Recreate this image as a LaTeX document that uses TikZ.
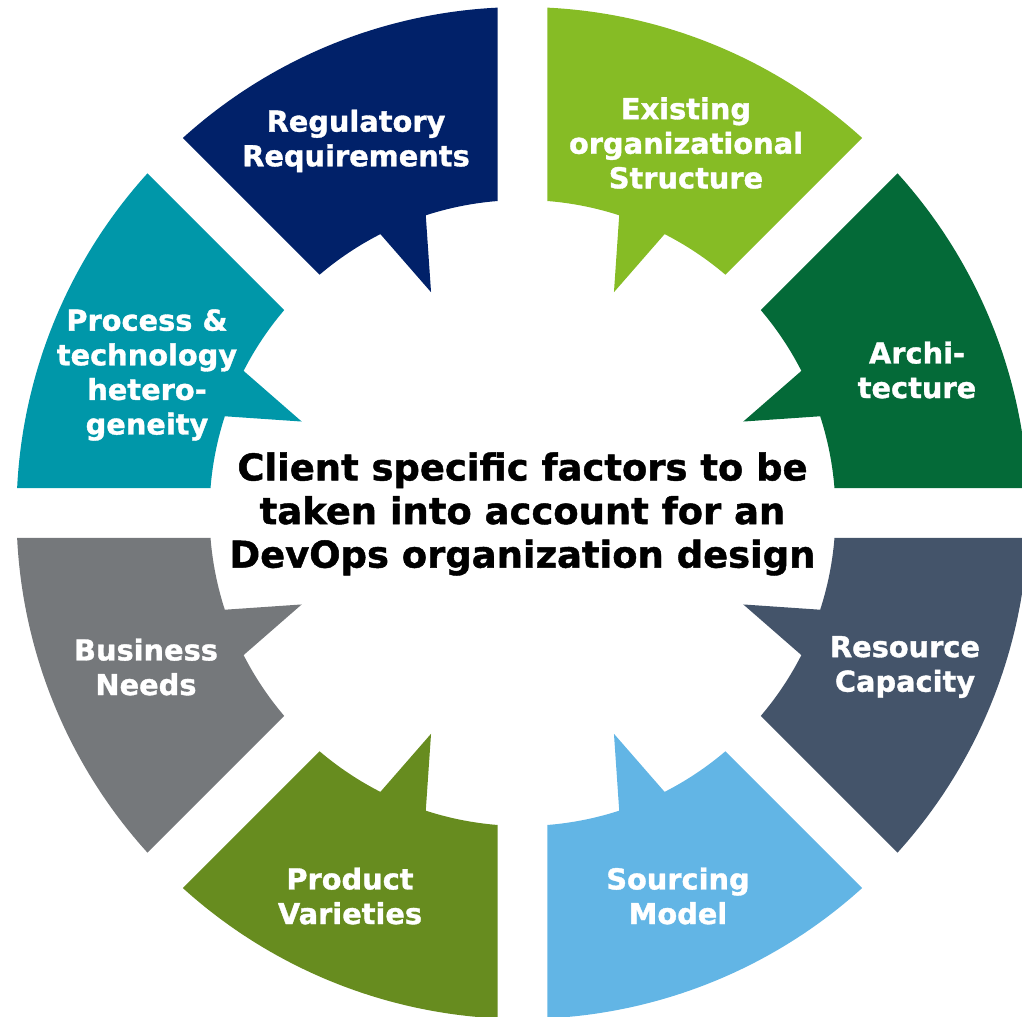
\documentclass[tikz,border=0pt]{standalone}
\usepackage{fontspec}
\setmainfont{DejaVu Sans}[BoldFeatures={FakeBold=1.2}]
\usetikzlibrary{math}

\definecolor{regblue}{HTML}{012169}
\definecolor{orggreen}{HTML}{86BC25}
\definecolor{archgreen}{HTML}{046A38}
\definecolor{proctea}{HTML}{0097A9}
\definecolor{busgray}{HTML}{75787B}
\definecolor{resslate}{HTML}{44546A}
\definecolor{prodolive}{HTML}{678C1F}
\definecolor{sourceblue}{HTML}{62B5E5}

\begin{document}
\begin{tikzpicture}[scale=0.02,
  factor/.style={text=white,align=center,inner sep=0pt,
    font=\bfseries\fontsize{16.4}{19.7}\selectfont},
  title/.style={text=black,align=center,inner sep=0pt,
    font=\bfseries\fontsize{21}{24.8}\selectfont}]
  \useasboundingbox (-522.5,-504) rectangle (499.5,513);
  \clip (-522.5,-504) rectangle (499.5,513);

  \tikzmath{
    real \R;
    real \r;
    real \t;
    real \g;
    \R = 506;
    \r = 313;
    \t = 239;
    \g = 25;
    \da = asin(\g/\R);
    \db = asin(\g/\r);
  }

  % one speech-bubble sector per factor
  \foreach \m/\col in {22.5/archgreen,67.5/orggreen,112.5/regblue,157.5/proctea,
                       202.5/busgray,247.5/prodolive,292.5/sourceblue,337.5/resslate}{
    \fill[\col] ({\m-22.5+\da}:\R) arc[start angle={\m-22.5+\da},end angle={\m+22.5-\da},radius=\R]
      -- ({\m+22.5-\db}:\r) arc[start angle={\m+22.5-\db},end angle={\m+4.5},radius=\r]
      -- (\m:\t) -- ({\m-4.5}:\r) arc[start angle={\m-4.5},end angle={\m-22.5+\db},radius=\r]
      -- cycle;
  }

  \node[factor] (reg) at (-166.5,372) {Regulatory\\Requirements};
  \node[factor] (org) at (163.5,370) {Existing\\organizational\\Structure};
  \node[factor] (arch) at (394.5,143) {Archi-\\tecture};
  \node[factor] (proc) at (-375.5,138) {Process \&\\technology\\hetero-\\geneity};
  \node[factor] (bus) at (-376.5,-154) {Business\\Needs};
  \node[factor] (res) at (382.5,-154) {Resource\\Capacity};
  \node[factor] (prod) at (-172.5,-383) {Product\\Varieties};
  \node[factor] (src) at (155.5,-383) {Sourcing\\Model};

  \node[title] (center) at (0,-1) {Client specific factors to be\\taken into account for an\\DevOps organization design};
\end{tikzpicture}
\end{document}
